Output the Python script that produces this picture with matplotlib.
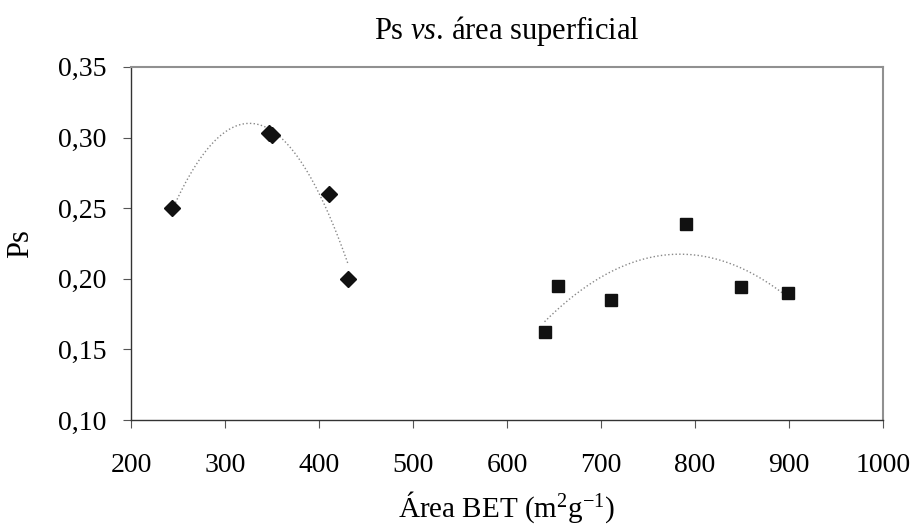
import numpy as np
import matplotlib
matplotlib.use("Agg")
import matplotlib.pyplot as plt

plt.rcParams['font.family'] = ['Liberation Serif', 'DejaVu Serif']
plt.rcParams['mathtext.fontset'] = 'custom'
plt.rcParams['mathtext.rm'] = 'Liberation Serif'
plt.rcParams['mathtext.it'] = 'Liberation Serif:italic'

# data
area_d = [244, 347, 350, 411, 431]
ps_d = [0.250, 0.303, 0.302, 0.260, 0.200]

area_s = [640, 654, 711, 790, 849, 899]
ps_s = [0.162, 0.195, 0.185, 0.239, 0.194, 0.190]

xticks = [200, 300, 400, 500, 600, 700, 800, 900, 1000]
yticks = [0.10, 0.15, 0.20, 0.25, 0.30, 0.35]
ytick_labels = ["0,10", "0,15", "0,20", "0,25", "0,30", "0,35"]

fig = plt.figure(figsize=(9.13, 5.31), dpi=100)
ax = fig.add_axes([0.1435, 0.209, 0.8235, 0.665])

# polynomial trend lines (2nd order)
for xs, ys in [(area_d, ps_d), (area_s, ps_s)]:
    c = np.polyfit(xs, ys, 2)
    xx = np.linspace(min(xs), max(xs), 200)
    ax.plot(xx, np.polyval(c, xx), linestyle=':', color='#888888', linewidth=1.0)

ax.plot(area_d, ps_d, 'D', color='#111111', markersize=8.5, linestyle='none')
ax.plot(area_s, ps_s, 's', color='#111111', markersize=8.5, linestyle='none')

ax.set_xlim(200, 1000)
ax.set_ylim(0.10, 0.35)
ax.set_xticks(xticks)
ax.set_yticks(yticks)
ax.set_yticklabels(ytick_labels)
ax.tick_params(axis='both', labelsize=20, direction='out', color='#555555')
ax.tick_params(axis='x', length=6, pad=18)
ax.tick_params(axis='y', length=6, pad=12)

for side in ['top', 'right']:
    ax.spines[side].set_color('#909090')
    ax.spines[side].set_linewidth(1.5)
for side in ['left', 'bottom']:
    ax.spines[side].set_color('#333333')
    ax.spines[side].set_linewidth(1.0)

ax.set_title(r'Ps $\it{vs}$. área superficial', fontsize=22, pad=20)
ax.set_xlabel(r'Área BET (m$^2$g$^{-1}$)', fontsize=21, labelpad=8)
ax.set_ylabel('Ps', fontsize=22, labelpad=16)

fig.savefig('out.png', dpi=100)
